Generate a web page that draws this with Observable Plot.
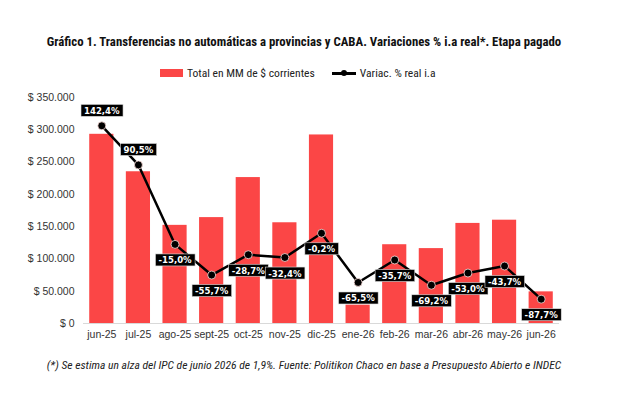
<!DOCTYPE html>
<html>
<head>
<meta charset="utf-8">
<script src="https://cdn.jsdelivr.net/npm/d3@7"></script>
<script src="https://cdn.jsdelivr.net/npm/@observablehq/plot@0.6"></script>
<style>
  html, body { margin: 0; padding: 0; background: #fff; }
  #wrap { position: relative; width: 637px; height: 398px; overflow: hidden; background: #fff;
          font-family: "Liberation Sans Narrow", "Roboto Condensed", "DejaVu Sans Condensed", sans-serif; color: #111; }
  #title { position: absolute; left: 0; width: 608px; top: 34px; text-align: center;
           font-weight: bold; font-size: 12.8px; }
  #legend { position: absolute; left: 160px; top: 66px; font-size: 11.6px; display: flex; align-items: center; color: #222; }
  #legend .sw { display: inline-block; width: 23px; height: 8px; background: #fb4646; margin-right: 4px; }
  #legend .ln { position: relative; display: inline-block; width: 24px; height: 12px; margin-left: 17px; margin-right: 4px; }
  #legend .ln::before { content: ""; position: absolute; left: 0; right: 0; top: 5px; height: 2.5px; background: #000; }
  #legend .ln::after { content: ""; position: absolute; left: 9px; top: 3px; width: 6px; height: 6px; border-radius: 50%; background: #000; }
  #chart { position: absolute; left: 0; top: 88px; }
  #note { position: absolute; left: 0; width: 608px; top: 358px; text-align: center;
          font-style: italic; font-size: 11.6px; color: #222; }
</style>
</head>
<body>
<div id="wrap">
  <div id="title">Gráfico 1. Transferencias no automáticas a provincias y CABA. Variaciones % i.a real*. Etapa pagado</div>
  <div id="legend"><span class="sw"></span><span>Total en MM de $ corrientes</span><span class="ln"></span><span>Variac. % real i.a</span></div>
  <div id="chart"></div>
  <div id="note">(*) Se estima un alza del IPC de junio 2026 de 1,9%. Fuente: Politikon Chaco en base a Presupuesto Abierto e INDEC</div>
</div>
<script>
// Months shown on the horizontal axis
const months = ["jun-25", "jul-25", "ago-25", "sept-25", "oct-25", "nov-25", "dic-25",
                "ene-26", "feb-26", "mar-26", "abr-26", "may-26", "jun-26"];
// Total transfers, millions of current pesos
const totals = [293000, 235000, 152000, 164000, 226000, 156000, 292000,
                28500, 122000, 116000, 155000, 160000, 49000];
// Real year-on-year variation, %
const variation = [142.4, 90.5, -15.0, -55.7, -28.7, -32.4, -0.2,
                   -65.5, -35.7, -69.2, -53.0, -43.7, -87.7];
// Left axis ticks
const yTicks = [0, 50000, 100000, 150000, 200000, 250000, 300000, 350000];

const data = months.map((m, i) => ({month: m, total: totals[i], pct: variation[i]}));

// Secondary (hidden) axis for the % series, mapped onto the money axis
const pctToMoney = d3.scaleLinear([-120, 180], [0, 350000]);

const locale = d3.formatLocale({decimal: ",", thousands: ".", grouping: [3], currency: ["$ ", ""], minus: "-"});
const money = v => "$ " + locale.format(",")(v);
const pctFmt = v => locale.format(",.1f")(v) + "%";

const font = "'Liberation Sans', Arial, sans-serif";
const narrow = "'Liberation Sans Narrow', 'DejaVu Sans Condensed', sans-serif";

const chart = Plot.plot({
  width: 637,
  height: 262,
  marginLeft: 83,
  marginRight: 78,
  marginTop: 9,
  marginBottom: 27,
  style: {fontFamily: font, fontSize: "10.5px", color: "#333", background: "transparent"},
  x: {domain: months, paddingInner: 0.34, paddingOuter: 0.17, round: false, label: null, tickSize: 0, tickPadding: 7},
  y: {domain: [0, 350000], ticks: yTicks, tickFormat: money, label: null, tickSize: 0, tickPadding: 9},
  marks: [
    Plot.barY(data, {x: "month", y: "total", fill: "#fb4646"}),
    Plot.ruleY([0], {stroke: "#d9d9d9", strokeWidth: 1}),
    Plot.line(data, {x: "month", y: d => pctToMoney(d.pct), stroke: "#000", strokeWidth: 2.5}),
    Plot.dot(data, {x: "month", y: d => pctToMoney(d.pct), r: 4, fill: "#000", stroke: "#fde0dc", strokeWidth: 0.8}),
    Plot.text(data.filter(d => d.pct > 50), {x: "month", y: d => pctToMoney(d.pct), text: d => pctFmt(d.pct),
      dy: -15, fill: "#fff", fontSize: 9.5, fontWeight: 600, fontFamily: narrow}),
    Plot.text(data.filter(d => d.pct <= 50), {x: "month", y: d => pctToMoney(d.pct), text: d => pctFmt(d.pct),
      dy: 16, fill: "#fff", fontSize: 9.5, fontWeight: 600, fontFamily: narrow})
  ]
});

document.getElementById("chart").appendChild(chart);

// Dark boxes behind the % labels
chart.querySelectorAll('g[aria-label="text"] text').forEach(t => {
  const b = t.getBBox();
  const r = document.createElementNS("http://www.w3.org/2000/svg", "rect");
  r.setAttribute("x", b.x - 3);
  r.setAttribute("y", b.y - 0.5);
  r.setAttribute("width", b.width + 6);
  r.setAttribute("height", b.height + 1);
  r.setAttribute("fill", "#000");
  r.setAttribute("stroke", "#ddd");
  r.setAttribute("stroke-width", 0.6);
  const tr = t.getAttribute("transform");
  if (tr) r.setAttribute("transform", tr);
  t.parentNode.insertBefore(r, t);
});
</script>
</body>
</html>
